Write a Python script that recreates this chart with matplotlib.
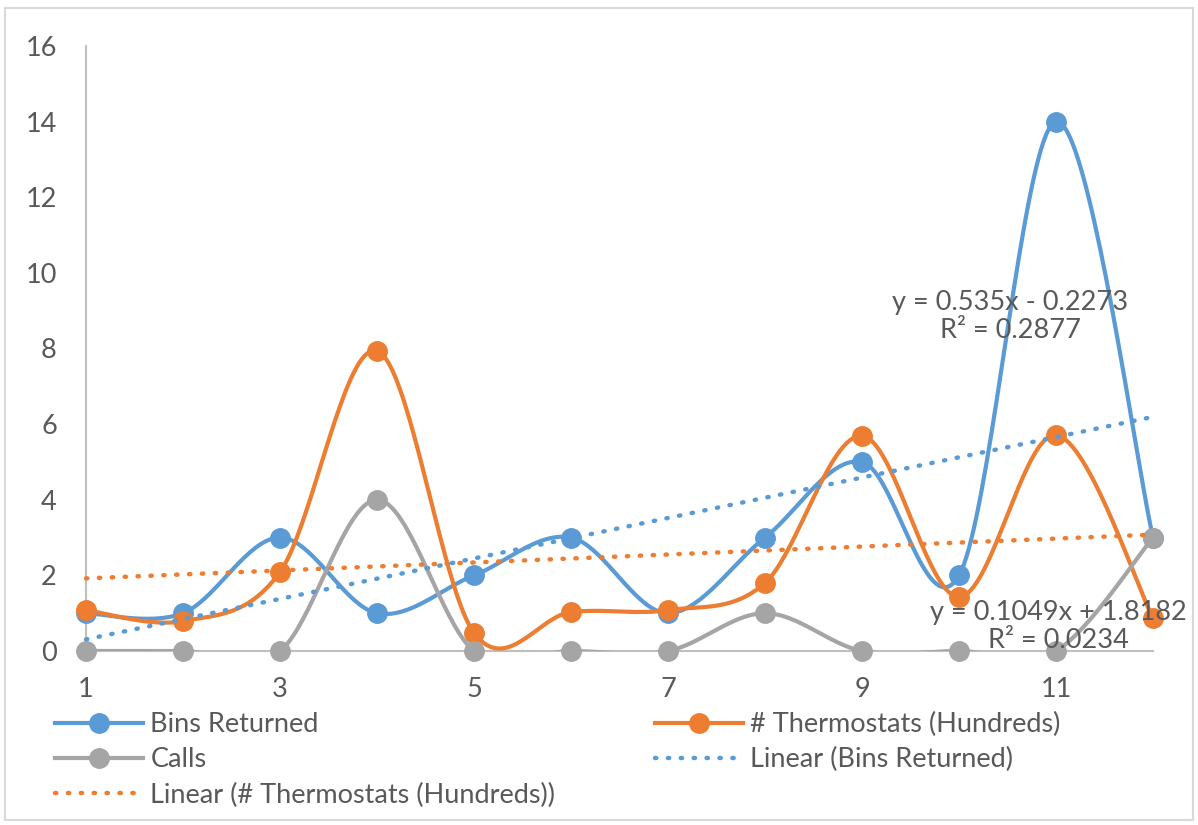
import matplotlib
matplotlib.use('Agg')
import matplotlib.pyplot as plt
from matplotlib.lines import Line2D
from matplotlib.patches import Rectangle
import numpy as np

# данные
x = np.arange(1, 13)
bins_returned = [1, 1, 3, 1, 2, 3, 1, 3, 5, 2, 14, 3]
thermostats = [1.08, 0.79, 2.09, 7.94, 0.48, 1.03, 1.08, 1.80, 5.69, 1.43, 5.71, 0.87]
calls = [0, 0, 0, 4, 0, 0, 0, 1, 0, 0, 0, 3]
x_ticks = [1, 3, 5, 7, 9, 11]
y_ticks = [0, 2, 4, 6, 8, 10, 12, 14, 16]
eq_bins = 'y = 0.535x - 0.2273\nR² = 0.2877'
eq_therm = 'y = 0.1049x + 1.8182\nR² = 0.0234'

BLUE = '#5B9BD5'
ORANGE = '#ED7D31'
GRAY = '#A5A5A5'
TXT = '#595959'
AX = '#BFBFBF'

plt.rcParams['font.family'] = ['Lato', 'DejaVu Sans']
FS = 19.5


def smooth(xs, ys, n=40):
    # сглаживание как в Excel: Безье с контрольными точками по Катмулл-Рому
    xs = np.asarray(xs, float)
    ys = np.asarray(ys, float)
    px = np.concatenate([[xs[0]], xs, [xs[-1]]])
    py = np.concatenate([[ys[0]], ys, [ys[-1]]])
    outx, outy = [], []
    t = np.linspace(0, 1, n)
    for i in range(1, len(px) - 2):
        p0 = np.array([px[i], py[i]])
        p3 = np.array([px[i + 1], py[i + 1]])
        c1 = p0 + (np.array([px[i + 1], py[i + 1]]) - np.array([px[i - 1], py[i - 1]])) / 6
        c2 = p3 - (np.array([px[i + 2], py[i + 2]]) - np.array([px[i], py[i]])) / 6
        b = ((1 - t) ** 3)[:, None] * p0 + (3 * (1 - t) ** 2 * t)[:, None] * c1 \
            + (3 * (1 - t) * t ** 2)[:, None] * c2 + (t ** 3)[:, None] * p3
        outx.extend(b[:, 0])
        outy.extend(b[:, 1])
    return outx, outy


fig = plt.figure(figsize=(11.98, 8.25), dpi=100)
ax = fig.add_axes([86 / 1198, 174 / 825, (1153 - 86) / 1198, (651 - 46) / 825])

for ys, c in [(bins_returned, BLUE), (thermostats, ORANGE), (calls, GRAY)]:
    sx, sy = smooth(x, ys)
    # линии обрезаются областью графика, маркеры - нет
    ax.plot(sx, sy, color=c, lw=3, solid_capstyle='round', zorder=3)
    ax.plot(x, ys, 'o', color=c, ms=14, zorder=3, clip_on=False)

dot = (0, (0.3, 2.6))
for ys, c in [(bins_returned, BLUE), (thermostats, ORANGE)]:
    k, b = np.polyfit(x, ys, 1)
    ax.plot([1, 12], [k * 1 + b, k * 12 + b], color=c, lw=3.2, linestyle=dot,
            dash_capstyle='round', zorder=4, clip_on=False)

ax.text(10.53, 8.85, eq_bins, ha='center', va='center', fontsize=FS, color=TXT,
        linespacing=1.15, zorder=5)
ax.text(11.02, 0.65, eq_therm, ha='center', va='center', fontsize=FS, color=TXT,
        linespacing=1.15, zorder=5)

ax.set_xlim(1, 12)
ax.set_ylim(0, 16)
ax.set_xticks(x_ticks)
ax.set_yticks(y_ticks)
ax.tick_params(length=0, labelsize=FS, labelcolor=TXT)
ax.tick_params(axis='x', pad=19)
ax.tick_params(axis='y', pad=21)
for s in ['top', 'right']:
    ax.spines[s].set_visible(False)
for s in ['left', 'bottom']:
    ax.spines[s].set_color(AX)
    ax.spines[s].set_linewidth(1.5)

h_bins = Line2D([], [], color=BLUE, lw=3, marker='o', ms=14)
h_therm = Line2D([], [], color=ORANGE, lw=3, marker='o', ms=14)
h_calls = Line2D([], [], color=GRAY, lw=3, marker='o', ms=14)
h_lb = Line2D([], [], color=BLUE, lw=3.2, linestyle=dot, dash_capstyle='round')
h_lt = Line2D([], [], color=ORANGE, lw=3.2, linestyle=dot, dash_capstyle='round')

kw = dict(loc='upper left', frameon=False, fontsize=FS, handlelength=3.25,
          handletextpad=0.27, labelspacing=0.38, borderpad=0, borderaxespad=0,
          labelcolor=TXT)
leg1 = fig.legend([h_bins, h_calls, h_lt],
                  ['Bins Returned', 'Calls', 'Linear (# Thermostats (Hundreds))'],
                  bbox_to_anchor=(55 / 1198, 1 - 712 / 825), **kw)
leg2 = fig.legend([h_therm, h_lb],
                  ['# Thermostats (Hundreds)', 'Linear (Bins Returned)'],
                  bbox_to_anchor=(655 / 1198, 1 - 712 / 825), **kw)

fig.patches.append(Rectangle((5 / 1198, 1 - 820 / 825), 1188 / 1198, 812 / 825,
                             transform=fig.transFigure, fill=False,
                             edgecolor='#D9D9D9', lw=1.5))

fig.savefig('out.png', dpi=100)
